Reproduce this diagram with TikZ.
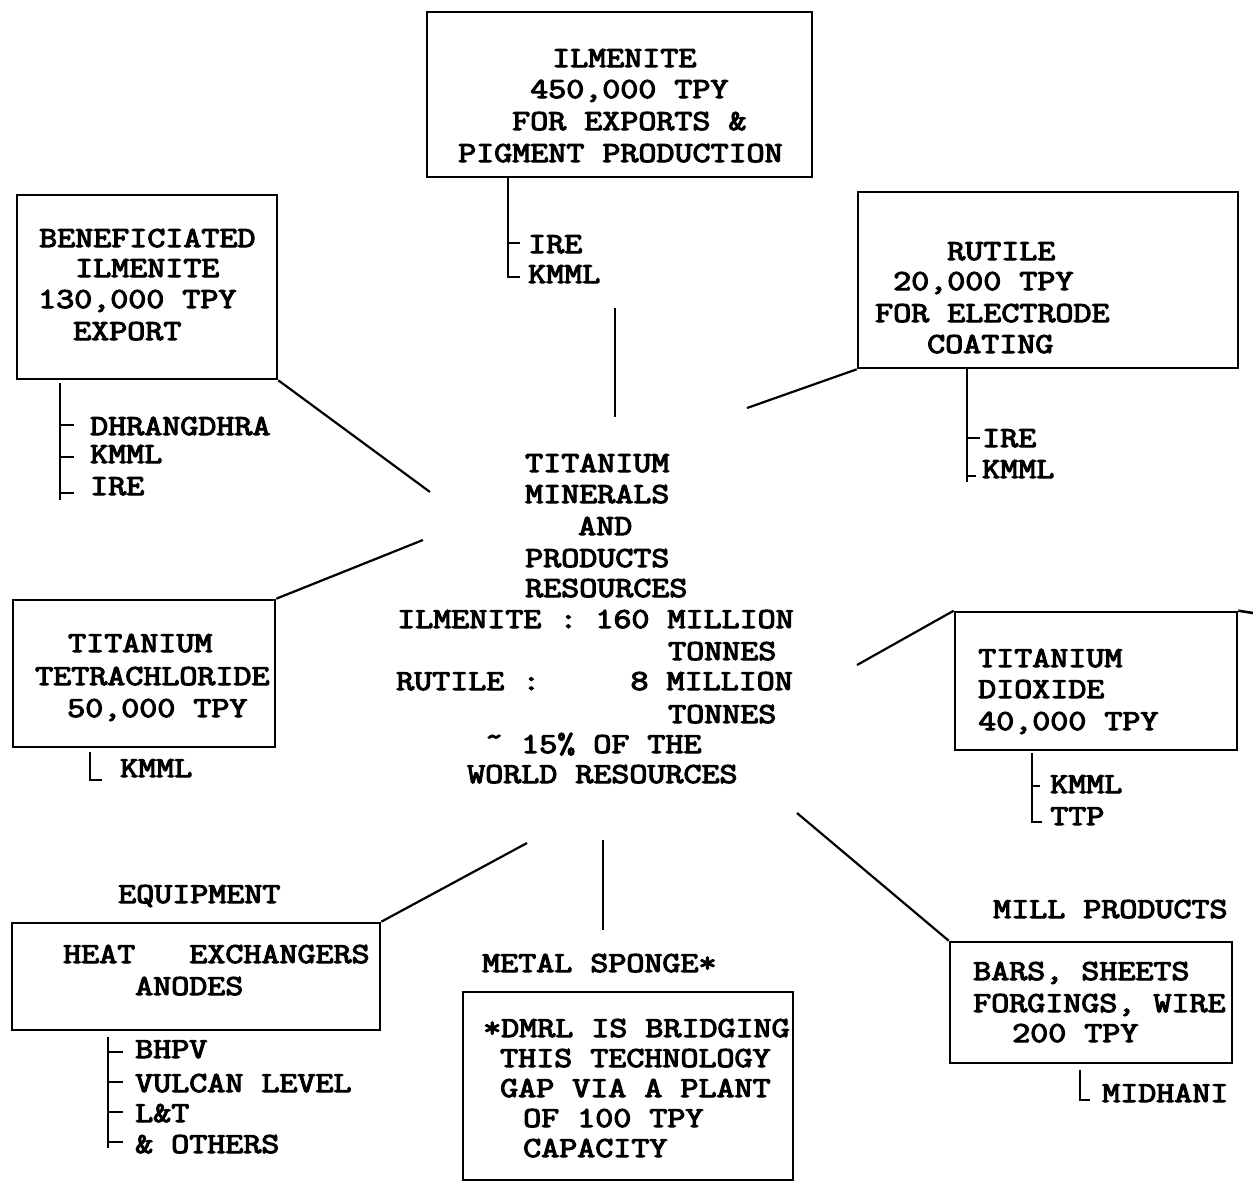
\documentclass[tikz,border=0pt]{standalone}
\usepackage{fontspec}
\usepackage{graphicx}
\newfontfamily\twfont{Latin Modern Mono}[FakeBold=3.5]
\usetikzlibrary{fit}
\newcounter{tlc}
\newcommand\txtline[3]{\stepcounter{tlc}\node[txt] (t\arabic{tlc}) at (#1,#2) {\scalebox{1}[0.83]{#3}};}
\begin{document}
\begin{tikzpicture}[x=1pt,y=-1pt,
  txt/.style={anchor=base west, inner sep=0pt, font=\fontsize{35}{36}\selectfont\twfont},
  box/.style={draw, line width=2.6pt, inner sep=0pt},
  conn/.style={line width=2.2pt},
  brk/.style={line width=2.2pt}]
\useasboundingbox (0,0) rectangle (1253,1189);

% ---------------- top: ilmenite ----------------
\node[box, fit={(427,12) (812,177)}] (ilm) {};
\txtline{552}{67}{ILMENITE}
\txtline{530}{98}{450,000 TPY}
\txtline{512}{130}{FOR EXPORTS \&}
\txtline{458}{162}{PIGMENT PRODUCTION}
\draw[brk] (508,177) -- (508,277) -- (520,277);
\draw[brk] (508,243) -- (520,243);
\txtline{528}{253}{IRE}
\txtline{528}{283}{KMML}
\coordinate (topA) at (615,308);
\coordinate (topB) at (615,417);
\draw[conn] (topA) -- (topB);

% ---------------- beneficiated ilmenite ----------------
\node[box, fit={(17,195) (277,379)}] (ben) {};
\txtline{39}{247}{BENEFICIATED}
\txtline{75}{277}{ILMENITE}
\txtline{38}{308}{130,000 TPY}
\txtline{73}{340}{EXPORT}
\draw[brk] (60,383) -- (60,500);
\draw[brk] (60,425) -- (74,425);
\draw[brk] (60,457) -- (74,457);
\draw[brk] (60,493) -- (74,493);
\txtline{90}{435}{DHRANGDHRA}
\txtline{90}{463}{KMML}
\txtline{90}{495}{IRE}
\coordinate (benC) at (430,492);
\draw[conn] (ben.south east) -- (benC);

% ---------------- rutile ----------------
\node[box, fit={(858,192) (1238,368)}] (rut) {};
\txtline{947}{260}{RUTILE}
\txtline{893}{290}{20,000 TPY}
\txtline{875}{322}{FOR ELECTRODE}
\txtline{927}{353}{COATING}
\draw[brk] (967,368) -- (967,482);
\draw[brk] (967,438) -- (980,438);
\draw[brk] (967,476) -- (976,476);
\txtline{982}{447}{IRE}
\txtline{982}{478}{KMML}
\coordinate (rutC) at (747,408);
\draw[conn] (rut.south west) -- (rutC);

% ---------------- centre ----------------
\txtline{525}{472}{TITANIUM}
\txtline{525}{503}{MINERALS}
\txtline{578}{535}{AND}
\txtline{525}{567}{PRODUCTS}
\txtline{525}{597}{RESOURCES}
\txtline{397}{628}{ILMENITE : 160 MILLION}
\txtline{668}{660}{TONNES}
\txtline{396}{690}{RUTILE :\ \ \ \ \ 8 MILLION}
\txtline{668}{723}{TONNES}
\txtline{485}{753}{\raisebox{9pt}{\textasciitilde}\ 15\% OF THE}
\txtline{467}{783}{WORLD RESOURCES}

% ---------------- titanium tetrachloride ----------------
\node[box, fit={(13,600) (275,747)}] (tet) {};
\txtline{68}{652}{TITANIUM}
\txtline{35}{685}{TETRACHLORIDE}
\txtline{67}{717}{50,000 TPY}
\draw[brk] (90,752) -- (90,780) -- (102,780);
\txtline{120}{777}{KMML}
\coordinate (tetC) at (423,540);
\draw[conn] (tet.north east) -- (tetC);

% ---------------- titanium dioxide ----------------
\node[box, fit={(955,612) (1237,750)}] (dio) {};
\coordinate (dioE) at (1253,613);
\draw[line width=2.6pt] (dio.north east) -- (dioE);
\txtline{978}{667}{TITANIUM}
\txtline{978}{698}{DIOXIDE}
\txtline{978}{730}{40,000 TPY}
\draw[brk] (1032,753) -- (1032,822) -- (1042,822);
\draw[brk] (1032,786) -- (1040,786);
\txtline{1050}{793}{KMML}
\txtline{1050}{825}{TTP}
\coordinate (dioC) at (857,665);
\draw[conn] (dio.north west) -- (dioC);

% ---------------- equipment ----------------
\txtline{118}{903}{EQUIPMENT}
\node[box, fit={(12,923) (380,1030)}] (equ) {};
\txtline{63}{963}{HEAT\ \ \ EXCHANGERS}
\txtline{135}{995}{ANODES}
\draw[brk] (108,1037) -- (108,1148);
\draw[brk] (108,1052) -- (123,1052);
\draw[brk] (108,1082) -- (123,1082);
\draw[brk] (108,1112) -- (123,1112);
\draw[brk] (108,1142) -- (123,1142);
\txtline{135}{1058}{BHPV}
\txtline{135}{1092}{VULCAN LEVEL}
\txtline{135}{1122}{L\&T}
\txtline{135}{1153}{\& OTHERS}
\coordinate (equC) at (527,843);
\draw[conn] (equ.north east) -- (equC);

% ---------------- metal sponge ----------------
\coordinate (spA) at (603,840);
\coordinate (spB) at (603,930);
\draw[conn] (spA) -- (spB);
\txtline{482}{972}{METAL SPONGE*}
\node[box, fit={(463,992) (793,1180)}] (spo) {};
\txtline{483}{1037}{*DMRL IS BRIDGING}
\txtline{500}{1067}{THIS TECHNOLOGY}
\txtline{500}{1097}{GAP VIA A PLANT}
\txtline{523}{1127}{OF 100 TPY}
\txtline{523}{1157}{CAPACITY}

% ---------------- mill products ----------------
\txtline{993}{918}{MILL PRODUCTS}
\node[box, fit={(950,942) (1232,1063)}] (mil) {};
\txtline{973}{980}{BARS, SHEETS}
\txtline{973}{1012}{FORGINGS, WIRE}
\txtline{1012}{1042}{200 TPY}
\draw[brk] (1080,1070) -- (1080,1100) -- (1090,1100);
\txtline{1102}{1102}{MIDHANI}
\coordinate (milC) at (797,813);
\draw[conn] (mil.north west) -- (milC);
\end{tikzpicture}
\end{document}
